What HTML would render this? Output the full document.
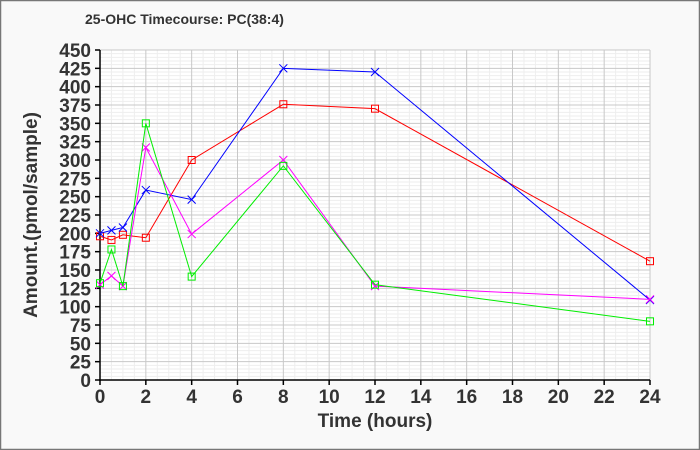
<!DOCTYPE html>
<html><head><style>
html,body{margin:0;padding:0;background:#f8f8f8}
svg{display:block}
text{font-family:"Liberation Sans",Arial,sans-serif;font-weight:bold;fill:#333}
</style></head><body>
<svg width="700" height="450" viewBox="0 0 700 450" xmlns="http://www.w3.org/2000/svg">
<rect x="0.5" y="0.5" width="699" height="449" fill="#f9f9f9" stroke="#777" stroke-width="1.5"/>
<rect x="100" y="50" width="550" height="330" fill="#fff"/>
<g id="minor" stroke="#eeeeee" stroke-width="1"></g>
<g id="major" stroke="#c8c8c8" stroke-width="1"></g>
<g id="axes" stroke="#000" stroke-width="1.5"></g>
<g id="labels"></g>
<g id="series"></g>
<text x="85" y="24" font-size="14" fill="#222">25-OHC Timecourse: PC(38:4)</text>
<text x="375" y="427" font-size="19" text-anchor="middle">Time (hours)</text>
<text transform="translate(37,215) rotate(-90)" font-size="19" text-anchor="middle">Amount.(pmol/sample)</text>
<script>
const NS="http://www.w3.org/2000/svg";
const X=t=>100+t*550/24, Y=v=>380-v*330/450;
function el(p,tag,a,txt){const e=document.createElementNS(NS,tag);for(const k in a)e.setAttribute(k,a[k]);if(txt!==undefined)e.textContent=txt;document.getElementById(p).appendChild(e);return e;}
for(let t=0;t<=24;t+=0.5){const x=X(t);el(t%2==0?'major':'minor','line',{x1:x,y1:50,x2:x,y2:380});}
for(let v=0;v<=450;v+=5){const y=Y(v);el(v%25==0?'major':'minor','line',{x1:100,y1:y,x2:650,y2:y});}
el('axes','line',{x1:100,y1:50,x2:100,y2:381});
el('axes','line',{x1:99,y1:380,x2:650,y2:380});
for(let t=0;t<=24;t+=2){const x=X(t);el('axes','line',{x1:x,y1:380,x2:x,y2:385});el('labels','text',{x:x,y:403,'font-size':19,'text-anchor':'middle'},t);}
for(let v=0;v<=450;v+=25){const y=Y(v);el('axes','line',{x1:95,y1:y,x2:100,y2:y});el('labels','text',{x:91,y:y+7,'font-size':19,'text-anchor':'end'},v);}
const T=[0,0.5,1,2,4,8,12,24];
const S=[
 ['#ff0000','sq',[196,191,198,194,300,376,370,162]],
 ['#0000ff','x',[200,204,208,259,246,425,420,109]],
 ['#ff00ff','x',[130,142,128,317,199,300,128,110]],
 ['#00ee00','sq',[132,178,128,350,141,292,130,80]],
];
for(const [c,m,d] of S){
 el('series','polyline',{points:T.map((t,i)=>X(t)+','+Y(d[i])).join(' '),fill:'none',stroke:c,'stroke-width':1});
 T.forEach((t,i)=>{const x=X(t),y=Y(d[i]);
  if(m=='sq')el('series','rect',{x:x-3.5,y:y-3.5,width:7,height:7,fill:'none',stroke:c,'stroke-width':1});
  else{el('series','line',{x1:x-4,y1:y-4,x2:x+4,y2:y+4,stroke:c});el('series','line',{x1:x-4,y1:y+4,x2:x+4,y2:y-4,stroke:c});}
 });
}
</script>
</svg>
</body></html>
